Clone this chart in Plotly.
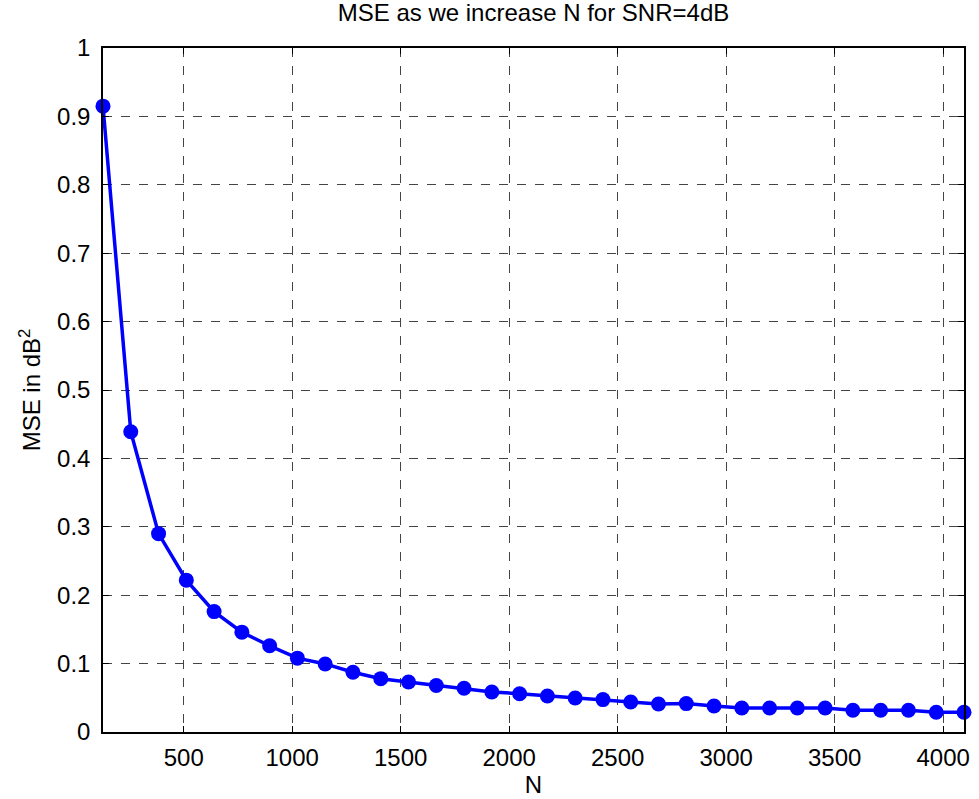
import plotly.graph_objects as go

N_values = [128 * k for k in range(1, 33)]
mse_values = [0.915, 0.439, 0.290, 0.222, 0.176, 0.146, 0.126, 0.108, 0.0995, 0.0874,
              0.078, 0.073, 0.068, 0.064, 0.0585, 0.056, 0.0527, 0.0498, 0.0474, 0.0439,
              0.041, 0.0415, 0.038, 0.035, 0.035, 0.035, 0.035, 0.0317, 0.0317, 0.0317,
              0.0288, 0.0288]
x_ticks = [500, 1000, 1500, 2000, 2500, 3000, 3500, 4000]
y_ticks = [0, 0.1, 0.2, 0.3, 0.4, 0.5, 0.6, 0.7, 0.8, 0.9, 1]
y_tick_labels = ["0", "0.1", "0.2", "0.3", "0.4", "0.5", "0.6", "0.7", "0.8", "0.9", "1"]

fig = go.Figure()
fig.add_trace(go.Scatter(
    x=N_values, y=mse_values, mode="lines+markers",
    line=dict(color="#0000FF", width=3.5),
    marker=dict(color="#0000FF", size=15),
    cliponaxis=False, showlegend=False,
))

fam = "Liberation Sans, Arial, sans-serif"
font = dict(family=fam, size=24, color="black")
axis_common = dict(
    showline=True, linecolor="black", linewidth=1.5, mirror="ticks",
    ticks="inside", ticklen=6, tickcolor="black",
    showgrid=True, gridcolor="#444444", griddash="dash", gridwidth=1,
    zeroline=False, tickfont=font,
)
fig.update_layout(
    width=979, height=799,
    margin=dict(l=103, r=9, t=48, b=67),
    paper_bgcolor="white", plot_bgcolor="white",
    title=dict(text="MSE as we increase N for SNR=4dB", x=0.5, xanchor="center",
               xref="paper", y=0.995, yanchor="top", yref="container",
               font=dict(family=fam, size=24, color="black")),
    xaxis=dict(range=[128, 4096], tickvals=x_ticks, ticklabelstandoff=3,
               title=dict(text="N", font=font, standoff=0), **axis_common),
    yaxis=dict(range=[0, 1], tickvals=y_ticks, ticktext=y_tick_labels, ticklabelstandoff=6,
               title=dict(text="MSE in dB<sup>2</sup>", font=font, standoff=10), **axis_common),
)
fig.write_html("out.html")
